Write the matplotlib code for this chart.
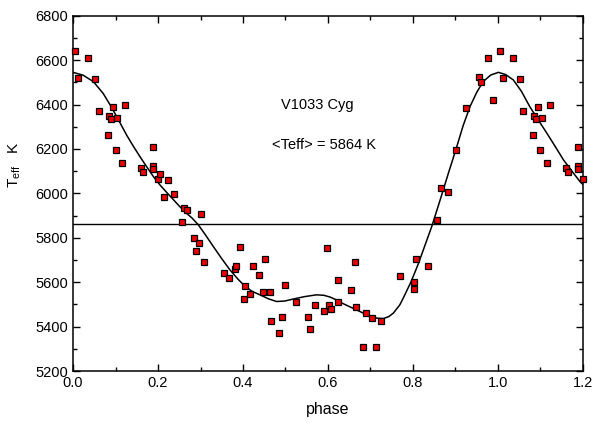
import numpy as np
import matplotlib
matplotlib.use("Agg")
import matplotlib.pyplot as plt
from matplotlib.ticker import MultipleLocator

plt.rcParams['font.family'] = ['Liberation Sans', 'DejaVu Sans']

# observed points, phase in [0, 1)
phase = [0.005, 0.011, 0.035, 0.051, 0.060, 0.082, 0.084, 0.089, 0.094, 0.100,
         0.104, 0.115, 0.123, 0.161, 0.165, 0.188, 0.188, 0.188, 0.200, 0.205,
         0.214, 0.223, 0.238, 0.256, 0.260, 0.269, 0.284, 0.289, 0.296, 0.302,
         0.309, 0.356, 0.366, 0.382, 0.383, 0.392, 0.402, 0.405, 0.416, 0.423,
         0.438, 0.447, 0.452, 0.463, 0.466, 0.485, 0.491, 0.498, 0.525, 0.552,
         0.558, 0.569, 0.591, 0.597, 0.602, 0.607, 0.624, 0.624, 0.654, 0.664,
         0.667, 0.682, 0.689, 0.703, 0.713, 0.725, 0.770, 0.802, 0.802, 0.807,
         0.835, 0.856, 0.865, 0.882, 0.901, 0.925, 0.955, 0.959, 0.976, 0.988]
teff = [6639, 6521, 6611, 6515, 6370, 6265, 6350, 6337, 6388, 6197,
        6338, 6136, 6398, 6116, 6094, 6208, 6125, 6110, 6065, 6089,
        5984, 6059, 5995, 5870, 5933, 5923, 5801, 5741, 5777, 5905,
        5689, 5641, 5621, 5660, 5675, 5759, 5524, 5581, 5549, 5672,
        5633, 5557, 5705, 5557, 5426, 5372, 5444, 5588, 5513, 5441,
        5390, 5495, 5468, 5756, 5498, 5478, 5611, 5513, 5567, 5689,
        5486, 5310, 5459, 5437, 5310, 5423, 5626, 5603, 5571, 5705,
        5675, 5882, 6022, 6008, 6197, 6386, 6523, 6503, 6611, 6422]

# fitted curve
fit_phase = [0.000, 0.024, 0.048, 0.071, 0.090, 0.110, 0.126, 0.142, 0.158, 0.174,
             0.189, 0.205, 0.221, 0.236, 0.250, 0.265, 0.280, 0.295, 0.312, 0.330,
             0.350, 0.369, 0.388, 0.405, 0.422, 0.440, 0.460, 0.479, 0.498, 0.518,
             0.545, 0.573, 0.590, 0.605, 0.620, 0.636, 0.655, 0.675, 0.695, 0.715,
             0.730, 0.743, 0.754, 0.769, 0.777, 0.795, 0.812, 0.828, 0.844, 0.864,
             0.884, 0.903, 0.918, 0.934, 0.950, 0.965, 0.983, 1.001, 1.018, 1.036,
             1.055, 1.075, 1.095, 1.115, 1.135, 1.154, 1.174, 1.193, 1.200]
fit_teff = [6545, 6532, 6503, 6450, 6390, 6320, 6263, 6212, 6164, 6118,
            6076, 6037, 6003, 5972, 5943, 5914, 5889, 5858, 5812, 5761,
            5706, 5656, 5614, 5581, 5558, 5543, 5525, 5513, 5515, 5524,
            5535, 5543, 5541, 5533, 5520, 5503, 5486, 5468, 5450, 5438,
            5436, 5445, 5461, 5498, 5528, 5600, 5680, 5765, 5850, 5971,
            6095, 6210, 6305, 6390, 6455, 6503, 6533, 6545, 6535, 6511,
            6460, 6390, 6330, 6271, 6210, 6151, 6100, 6053, 6040]

mean_teff = 5864

ph = np.array(phase)
tt = np.array(teff)
ph_all = np.concatenate([ph, ph + 1])
tt_all = np.concatenate([tt, tt])
keep = ph_all <= 1.2

fig = plt.figure(figsize=(5.95, 4.26), dpi=100)
ax = fig.add_axes([0.1227, 0.1291, 0.8571, 0.834])

ax.axhline(mean_teff, color='black', lw=1.0, zorder=1)
ax.plot(fit_phase, fit_teff, color='black', lw=1.1, zorder=2)
ax.plot(ph_all[keep], tt_all[keep], 's', ms=5, mfc='#ee0000', mec='black',
        mew=0.9, zorder=3, clip_on=False)

ax.set_xlim(0, 1.2)
ax.set_ylim(5200, 6800)
ax.xaxis.set_major_locator(MultipleLocator(0.2))
ax.xaxis.set_minor_locator(MultipleLocator(0.1))
ax.yaxis.set_major_locator(MultipleLocator(200))
ax.yaxis.set_minor_locator(MultipleLocator(100))
ax.xaxis.set_major_formatter(plt.FuncFormatter(lambda v, p: f"{v:.1f}"))
ax.tick_params(which='both', direction='in', top=True, right=True, labelsize=10.5)
ax.tick_params(which='major', length=5, width=1)
ax.tick_params(which='minor', length=3, width=1)
for s in ax.spines.values():
    s.set_linewidth(1.1)

ax.text(0.576, 6398, "V1033 Cyg", ha='center', va='center', fontsize=10.5)
ax.text(0.591, 6218, "<Teff> = 5864 K", ha='center', va='center', fontsize=10.5)

ax.set_xlabel("phase", fontsize=11.5)
ax.xaxis.set_label_coords(0.5, -0.088)
ax.set_ylabel(r"T$_{\mathregular{eff}}$   K", fontsize=11)
ax.yaxis.set_label_coords(-0.098, 0.58)

fig.savefig("out.png", dpi=100)
